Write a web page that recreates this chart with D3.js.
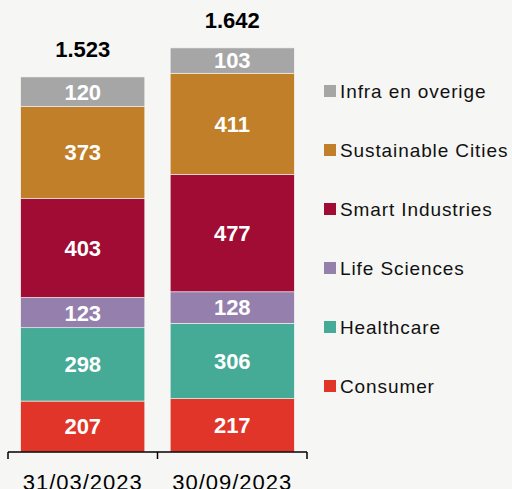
<!DOCTYPE html>
<html>
<head>
<meta charset="utf-8">
<script src="https://cdn.jsdelivr.net/npm/d3@7"></script>
<style>
    body { margin: 0; background: #f6f6f4; }
    svg { display: block; }
</style>
</head>
<body>
<div id="chart"></div>
<script>
const periods = ['31/03/2023', '30/09/2023'];
const segments = ['Consumer', 'Healthcare', 'Life Sciences', 'Smart Industries', 'Sustainable Cities', 'Infra en overige'];
const colors = ['#e03528', '#45ab96', '#9580ad', '#a00c34', '#c07f28', '#a6a6a6'];
const consumer = [207, 217];
const healthcare = [298, 306];
const lifeSciences = [123, 128];
const smartIndustries = [403, 477];
const sustainableCities = [373, 411];
const infraOverig = [120, 103];
const totalLabels = ['1.523', '1.642'];

const width = 512, height = 489;
const baseY = 452;

const seriesValues = [consumer, healthcare, lifeSciences, smartIndustries, sustainableCities, infraOverig];
const rows = periods.map((p, i) => {
    const row = { period: p };
    segments.forEach((s, j) => { row[s] = seriesValues[j][i]; });
    return row;
});
const stacked = d3.stack().keys(segments)(rows);

const svg = d3.select('#chart').append('svg')
    .attr('width', width)
    .attr('height', height);

const x = d3.scaleBand()
    .domain(periods)
    .range([8, 307])
    .paddingInner(0.17)
    .paddingOuter(0.085);

const y = d3.scaleLinear()
    .domain([0, 1700])
    .range([baseY, baseY - 1700 * 0.2461]);

const color = d3.scaleOrdinal().domain(segments).range(colors);

const layers = svg.append('g').attr('class', 'bars')
    .selectAll('g')
    .data(stacked)
    .join('g')
    .attr('fill', d => color(d.key));

layers.selectAll('rect')
    .data(d => d)
    .join('rect')
    .attr('x', d => x(d.data.period))
    .attr('y', d => y(d[1]))
    .attr('width', x.bandwidth())
    .attr('height', d => y(d[0]) - y(d[1]))
    .attr('stroke', '#f6f6f4')
    .attr('stroke-width', 0.6);

layers.selectAll('text')
    .data(d => d)
    .join('text')
    .attr('x', d => x(d.data.period) + x.bandwidth() / 2)
    .attr('y', d => (y(d[0]) + y(d[1])) / 2)
    .attr('dy', '0.36em')
    .attr('text-anchor', 'middle')
    .attr('fill', '#fff')
    .style('font', 'bold 22px "Liberation Sans", Arial, sans-serif')
    .text(d => d[1] - d[0]);

// totals above the bars
const totals = rows.map((r, i) => ({ period: r.period, value: d3.sum(segments, s => r[s]), label: totalLabels[i] }));
svg.append('g').selectAll('text')
    .data(totals)
    .join('text')
    .attr('x', d => x(d.period) + x.bandwidth() / 2)
    .attr('y', d => y(d.value) - 20)
    .attr('text-anchor', 'middle')
    .attr('fill', '#000')
    .style('font', 'bold 22px "Liberation Sans", Arial, sans-serif')
    .text(d => d.label);

// category axis with ticks between categories
const step = x.step();
const edges = [x.range()[0]].concat(periods.map(p => x(p) + x.bandwidth() + step * x.paddingInner() / 2));
edges[edges.length - 1] = x.range()[1];
const axis = svg.append('g').attr('class', 'axis');
axis.append('line')
    .attr('x1', x.range()[0]).attr('x2', x.range()[1])
    .attr('y1', baseY).attr('y2', baseY)
    .attr('stroke', '#000').attr('stroke-width', 1.5);
axis.selectAll('line.tick')
    .data(edges)
    .join('line')
    .attr('class', 'tick')
    .attr('x1', d => d).attr('x2', d => d)
    .attr('y1', baseY).attr('y2', baseY + 7)
    .attr('stroke', '#000').attr('stroke-width', 1.5);
axis.selectAll('text')
    .data(periods)
    .join('text')
    .attr('x', d => x(d) + x.bandwidth() / 2)
    .attr('y', 490)
    .attr('text-anchor', 'middle')
    .attr('fill', '#000')
    .style('font', '22px "Liberation Sans", Arial, sans-serif')
    .style('letter-spacing', '1px')
    .text(d => d);

// legend, top item first
const legendItems = segments.slice().reverse();
const legend = svg.append('g').attr('class', 'legend')
    .selectAll('g')
    .data(legendItems)
    .join('g')
    .attr('transform', (d, i) => `translate(324, ${91 + i * 59})`);
legend.append('rect')
    .attr('x', 0).attr('y', -6)
    .attr('width', 12).attr('height', 12)
    .attr('fill', d => color(d));
legend.append('text')
    .attr('x', 16)
    .attr('y', 0)
    .attr('dy', '0.36em')
    .attr('fill', '#111')
    .style('font', '19px "Liberation Sans", Arial, sans-serif')
    .style('letter-spacing', '0.9px')
    .text(d => d);
</script>
</body>
</html>
